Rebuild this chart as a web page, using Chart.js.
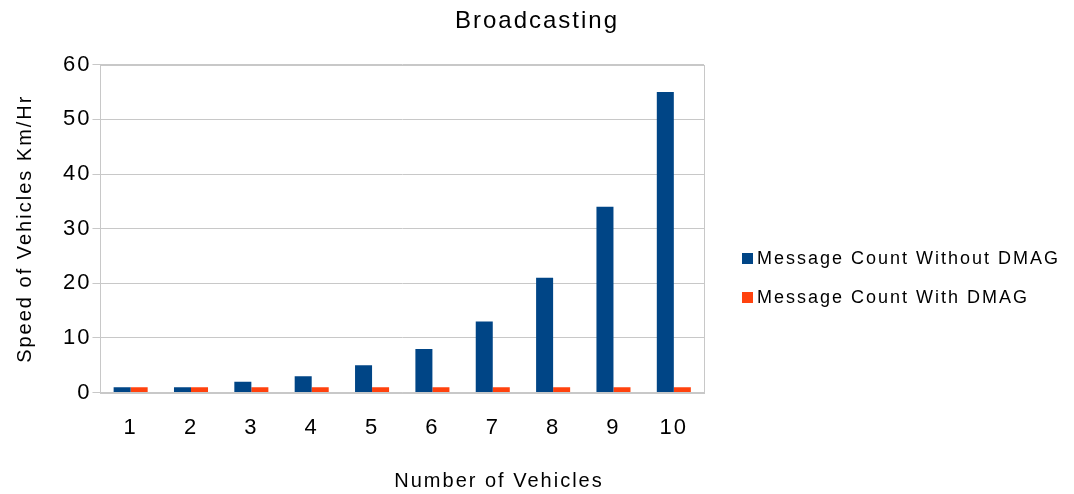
<!DOCTYPE html>
<html>
<head>
<meta charset="utf-8">
<script src="https://cdn.jsdelivr.net/npm/chart.js@4.4.0/dist/chart.umd.min.js"></script>
<style>
  html, body { margin: 0; padding: 0; background: #fff; }
  #wrap { position: relative; width: 1074px; height: 494px; }
  #legend { position: absolute; top: 239px; font-family: "Liberation Sans", Arial, sans-serif;
            font-size: 18px; letter-spacing: 2px; color: #000; }
  #legend div { height: 39px; display: flex; align-items: center; }
  #legend span.box { display: inline-block; width: 11px; height: 11px; margin-right: 4px; }
</style>
</head>
<body>
<div id="wrap"><canvas id="chart"></canvas><div id="legend"></div></div>
<script>
const vehicles = ['1', '2', '3', '4', '5', '6', '7', '8', '9', '10'];
const withoutDmag = [1, 1, 2, 3, 5, 8, 13, 21, 34, 55];
const withDmag = [1, 1, 1, 1, 1, 1, 1, 1, 1, 1];
const xTitle = 'Number of Vehicles';

Chart.defaults.font.family = '"Liberation Sans", Arial, sans-serif';
Chart.defaults.color = '#000';

// the original text is set quite wide, so space the letters out a bit
const spacing = {
    id: 'spacing',
    beforeUpdate(chart) { chart.ctx.letterSpacing = '2px'; },
    beforeLayout(chart) { chart.ctx.letterSpacing = '2px'; },
    beforeDraw(chart) { chart.ctx.letterSpacing = '2px'; }
};

// empty box on the right where the html legend goes, so the title stays centred on the page
const legendRoom = {
    id: 'legendRoom',
    beforeInit(chart) {
        Chart.layouts.addBox(chart, {
            position: 'right',
            weight: 10,
            fullSize: false,
            options: {},
            isHorizontal() { return false; },
            update(maxWidth, maxHeight) { this.width = 370; this.height = maxHeight; },
            draw() {}
        });
    }
};

// grey frame round the plot area, and the x title, which sits off centre in the original
const frame = {
    id: 'frame',
    afterDraw(chart) {
        const a = chart.chartArea;
        const c = chart.ctx;
        c.save();
        c.strokeStyle = '#c8c8c8';
        c.lineWidth = 1;
        c.strokeRect(Math.round(a.left) + 0.5, Math.round(a.top) + 0.5,
                     Math.round(a.right - a.left), Math.round(a.bottom - a.top));
        c.letterSpacing = '2px';
        c.font = '20px "Liberation Sans", Arial, sans-serif';
        c.fillStyle = '#000';
        c.textAlign = 'center';
        c.textBaseline = 'middle';
        c.fillText(xTitle, chart.width / 2 - 38, a.bottom + 89);
        c.restore();
    }
};

const ctx = document.getElementById('chart').getContext('2d');
const myChart = new Chart(ctx, {
    type: 'bar',
    data: {
        labels: vehicles,
        datasets: [{
            label: 'Message Count Without DMAG',
            data: withoutDmag,
            backgroundColor: '#004586'
        }, {
            label: 'Message Count With DMAG',
            data: withDmag,
            backgroundColor: '#ff420e'
        }]
    },
    plugins: [spacing, legendRoom, frame],
    options: {
        responsive: true,
        maintainAspectRatio: false,
        animation: false,
        layout: { padding: { top: 0, right: 0, bottom: 39, left: 0 } },
        datasets: { bar: { categoryPercentage: 0.564, barPercentage: 1.0 } },
        plugins: {
            title: {
                display: true,
                text: 'Broadcasting',
                font: { size: 24, weight: 'normal' },
                padding: { top: 7, bottom: 29 }
            },
            legend: { display: false },
            tooltip: { enabled: false }
        },
        scales: {
            x: {
                grid: { display: false },
                border: { color: '#c8c8c8' },
                ticks: { font: { size: 22 }, padding: 14 }
            },
            y: {
                min: 0,
                max: 60,
                ticks: { stepSize: 10, font: { size: 22 }, padding: 1 },
                grid: { color: '#c8c8c8', tickLength: 8 },
                border: { color: '#c8c8c8' },
                title: {
                    display: true,
                    text: 'Speed of Vehicles Km/Hr',
                    font: { size: 20 },
                    padding: { top: 13, bottom: 25 }
                }
            }
        }
    }
});

// legend as html, built from the datasets
const legend = document.getElementById('legend');
legend.style.left = (myChart.chartArea.right + 38) + 'px';
myChart.data.datasets.forEach(ds => {
    const row = document.createElement('div');
    row.innerHTML = `<span class="box" style="background:${ds.backgroundColor}"></span>${ds.label}`;
    legend.appendChild(row);
});
</script>
</body>
</html>
